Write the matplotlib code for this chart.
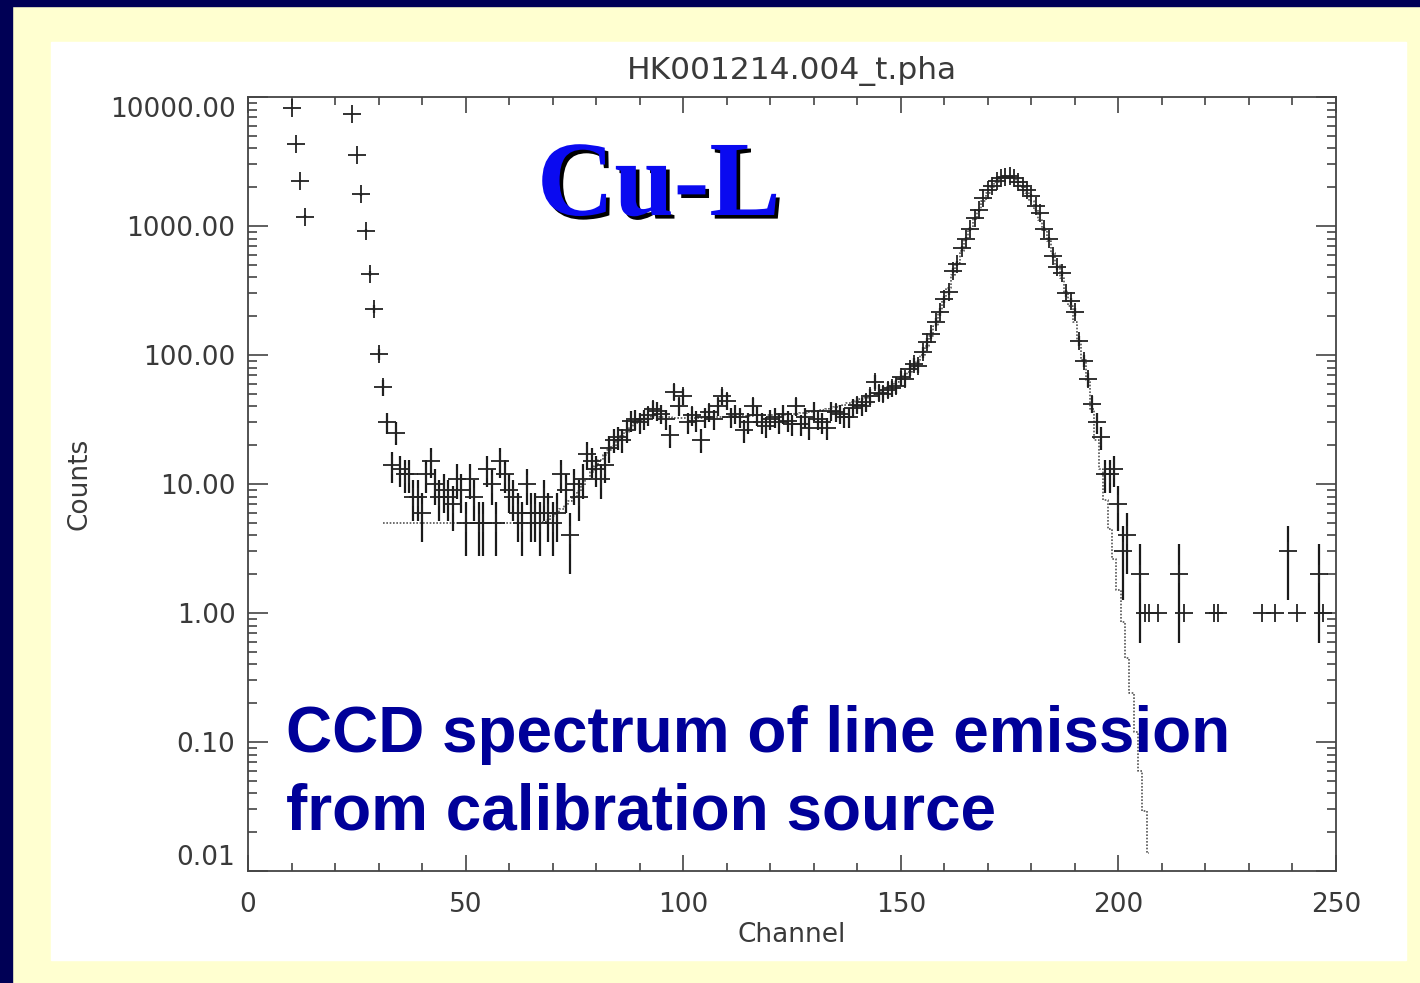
import numpy as np
import matplotlib
matplotlib.use('Agg')
import matplotlib.pyplot as plt
import matplotlib.patheffects as pe
from matplotlib.patches import Rectangle
from matplotlib.ticker import LogLocator, MultipleLocator, FixedLocator, FuncFormatter

# Measured spectrum: channel and counts
channels = [10, 11, 12, 13,
            24, 25, 26, 27, 28, 29, 30, 31, 32, 33, 34, 35, 36, 37, 38, 39,
            40, 41, 42, 43, 44, 45, 46, 47, 48, 49, 50, 51, 52, 53, 54, 55,
            56, 57, 58, 59, 60, 61, 62, 63, 64, 65, 66, 67, 68, 69, 70, 71,
            72, 73, 74, 75, 76, 77, 78, 79, 80, 81, 82, 83, 84, 85, 86, 87,
            88, 89, 90, 91, 92, 93, 94, 95, 96, 97, 98, 99, 100, 101, 102,
            103, 104, 105, 106, 107, 108, 109, 110, 111, 112, 113, 114, 115,
            116, 117, 118, 119, 120, 121, 122, 123, 124, 125, 126, 127, 128,
            129, 130, 131, 132, 133, 134, 135, 136, 137, 138, 139, 140, 141,
            142, 143, 144, 145, 146, 147, 148, 149, 150, 151, 152, 153, 154,
            155, 156, 157, 158, 159, 160, 161, 162, 163, 164, 165, 166, 167,
            168, 169, 170, 171, 172, 173, 174, 175, 176, 177, 178, 179, 180,
            181, 182, 183, 184, 185, 186, 187, 188, 189, 190, 191, 192, 193,
            194, 195, 196, 197, 198, 199, 200, 201, 202, 205, 206, 207, 209,
            214, 215, 222, 223, 233, 236, 239, 241, 246, 247]
counts = [8150, 4300, 2230, 1180,
          7400, 3540, 1760, 922, 427, 228, 102, 56, 30, 14, 25, 13, 12, 12, 8, 8,
          6, 12, 15, 10, 8, 9, 8, 7, 11, 9, 5, 11, 8, 5, 5, 13,
          10, 5, 15, 12, 9, 8, 6, 5, 10, 6, 6, 5, 8, 6, 5, 6,
          12, 9, 4, 10, 8, 11, 17, 15, 13, 11, 14, 19, 22, 23, 22, 26,
          31, 32, 30, 32, 34, 38, 37, 35, 32, 24, 52, 40, 48, 30, 34,
          31, 22, 33, 36, 32, 40, 48, 44, 33, 35, 33, 26, 30,
          40, 34, 30, 28, 32, 33, 30, 35, 31, 29, 40, 29, 33,
          27, 37, 32, 30, 27, 37, 36, 35, 33, 33, 39, 41, 40,
          43, 48, 62, 51, 50, 54, 55, 57, 67, 65, 78, 85, 82,
          105, 125, 145, 180, 215, 270, 310, 450, 510, 670, 800, 950, 1150,
          1320, 1650, 1900, 2050, 2250, 2350, 2400, 2450, 2350, 2200, 2050, 1900, 1720,
          1440, 1250, 950, 800, 590, 480, 430, 300, 260, 215, 128, 90, 65,
          42, 30, 23, 12, 12, 13, 7, 3, 4, 2, 1, 1, 1,
          2, 1, 1, 1, 1, 1, 3, 1, 2, 1]

# Model (dotted step line), one value per channel starting at channel 31
model_first_channel = 31
model_counts = [5] * 37 + [
    5.1, 5.3, 5.6, 6.0, 6.4, 6.9, 7.4, 8.0, 8.8, 9.8,                  # 68-77
    11, 12.3, 13.8, 15.3, 16.8, 18.3, 19.8, 21.5, 23.5, 25.5,          # 78-87
    27.5, 29.5, 31, 32, 33, 33.5, 33.5, 33.3, 33, 32.8,                # 88-97
    32.6, 32.5, 32.5, 32.4, 32.4, 32.5, 32.6, 32.7, 32.8, 33,          # 98-107
    33.1, 33.2, 33.3, 33.4, 33.5, 33.6, 33.7, 33.8, 33.9, 34,          # 108-117
    34, 34.1, 34.2, 34.3, 34.4, 34.5, 34.6, 34.7, 34.8, 35.2,          # 118-127
    35.6, 36, 36.5, 37, 37.6, 38.2, 38.9, 39.6, 40.4, 41.2,            # 128-137
    42.1, 43, 44, 45.2, 46.5, 48, 49.6, 51.4, 53.5, 56,                # 138-147
    59, 62, 65.5, 69.5, 74, 80, 88, 100, 118, 140,                     # 148-157
    168, 210, 270, 330, 420, 520, 640, 790, 950, 1130,                 # 158-167
    1330, 1560, 1800, 2020, 2200, 2340, 2420, 2420, 2340, 2200,        # 168-177
    2020, 1800, 1560, 1330, 1120, 930, 760, 615, 495, 395,             # 178-187
    310, 240, 180, 130, 92, 64, 38, 22, 13, 7.5,                       # 188-197
    4.5, 2.6, 1.5, 0.85, 0.45, 0.24, 0.12, 0.06, 0.029, 0.0138]        # 198-207

x_major = [0, 50, 100, 150, 200, 250]
y_major = [0.01, 0.1, 1, 10, 100, 1000, 10000]

W, H = 1420, 983
fig = plt.figure(figsize=(W / 100, H / 100), dpi=100, facecolor='#ffffd0')

# slide background: navy strips, yellow page, white plot panel
navy = '#000055'
fig.patches.append(Rectangle((0, 0), 12 / W, 1, transform=fig.transFigure,
                             color=navy, zorder=-2))
fig.patches.append(Rectangle((0, 1 - 6 / H), 1, 6 / H, transform=fig.transFigure,
                             color=navy, zorder=-2))
fig.patches.append(Rectangle((51 / W, (H - 960) / H), (1406 - 51) / W, (960 - 42) / H,
                             transform=fig.transFigure, color='white', zorder=-1))

ax = fig.add_axes([248 / W, (H - 871) / H, (1336 - 248) / W, (871 - 97) / H])
ax.set_facecolor('none')

ch = np.array(channels, dtype=float)
cn = np.array(counts, dtype=float)
err = np.sqrt(cn)
show = cn > 1
ax.vlines(ch[show], cn[show] - err[show], cn[show] + err[show],
          color='#1a1a1a', lw=1.6, zorder=3)
ax.plot(ch, cn, ls='none', marker='+', ms=12.5, mew=1.3, color='#222222', zorder=3)

model_ch = np.arange(model_first_channel, model_first_channel + len(model_counts))
ax.plot(model_ch, model_counts, drawstyle='steps-mid', ls=(0, (1, 1)), lw=1.2,
        color='#555555', zorder=2)

ax.set_xlim(0, 250)
ax.set_yscale('log')
ax.set_ylim(0.01, 10000)

ax.xaxis.set_major_locator(FixedLocator(x_major))
ax.xaxis.set_minor_locator(MultipleLocator(10))
ax.yaxis.set_major_locator(FixedLocator(y_major))
ax.yaxis.set_minor_locator(LogLocator(base=10, subs=np.arange(2, 10), numticks=20))
ax.yaxis.set_major_formatter(FuncFormatter(lambda v, p: '%.2f' % v))
ax.yaxis.set_minor_formatter(FuncFormatter(lambda v, p: ''))

txt = '#3a3a3a'
font = 'DejaVu Sans'
ax.tick_params(axis='both', which='both', direction='in', top=True, right=True,
               color='#444444', width=1.2, labelcolor=txt)
ax.tick_params(axis='x', which='major', length=11.5, pad=15, labelsize=19)
ax.tick_params(axis='x', which='minor', length=5.8)
ax.tick_params(axis='y', which='major', length=14.5, pad=9, labelsize=19)
ax.tick_params(axis='y', which='minor', length=6.5)
for lab in ax.get_xticklabels() + ax.get_yticklabels():
    lab.set_fontfamily(font)
for s in ax.spines.values():
    s.set_color('#444444')
    s.set_linewidth(1.3)

# IDL shifts the extreme y labels inwards
ylabs = ax.get_yticklabels()
ylabs[0].set_va('bottom')
ylabs[-1].set_va('top')

ax.set_xlabel('Channel', fontsize=19, color=txt, family=font)
ax.xaxis.set_label_coords(0.5, -0.066)
ax.set_ylabel('Counts', fontsize=19, color=txt, family=font)
ax.yaxis.set_label_coords(-0.143, 0.5)
ax.text(0.5, 1 + (97 - 79) / 774, 'HK001214.004_t.pha', transform=ax.transAxes,
        ha='center', va='baseline', fontsize=22.5, color=txt, family=font)

# slide annotations
fig.text(537 / W, (H - 215) / H, 'Cu-L', fontsize=77, fontweight='bold',
         family='Liberation Serif', color='#0a0af0', va='baseline', ha='left',
         path_effects=[pe.SimplePatchShadow(offset=(2.6, -2.6), shadow_rgbFace='black',
                                            alpha=1.0), pe.Normal()])
fig.text(286 / W, (H - 752) / H, 'CCD spectrum of line emission', fontsize=46,
         fontweight='bold', family='Liberation Sans', color='#000099',
         va='baseline', ha='left')
fig.text(286 / W, (H - 829) / H, 'from calibration source', fontsize=46,
         fontweight='bold', family='Liberation Sans', color='#000099',
         va='baseline', ha='left')

fig.savefig('out.png', dpi=100, facecolor=fig.get_facecolor())
